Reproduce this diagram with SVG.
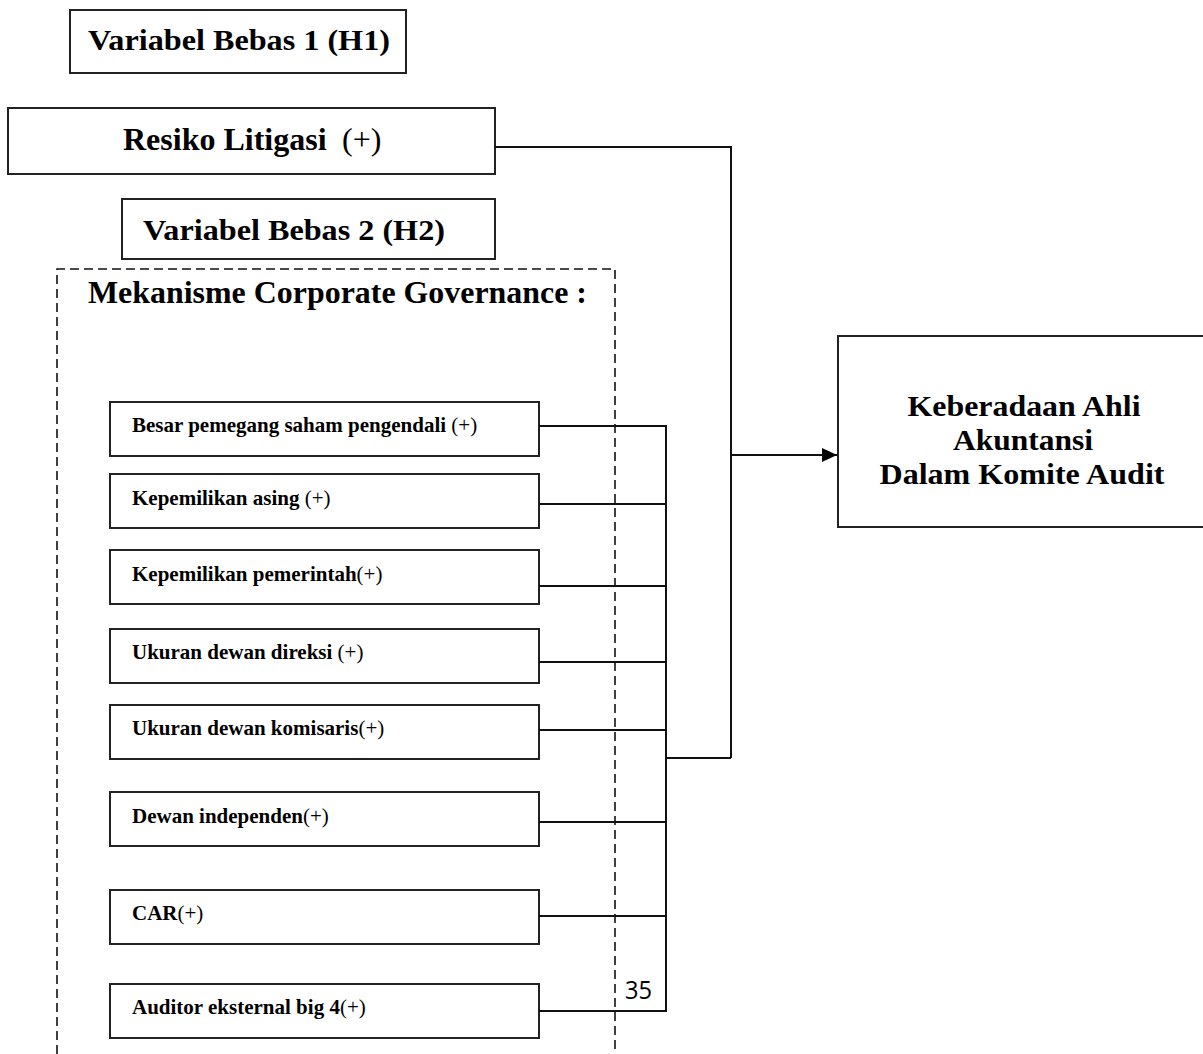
<svg xmlns="http://www.w3.org/2000/svg" width="1203" height="1054" viewBox="0 0 1203 1054">
<style>
.box{fill:#fff;stroke:#222;stroke-width:2}
.dash{fill:none;stroke:#111;stroke-width:1.6;stroke-dasharray:9 5}
.conn{fill:none;stroke:#111;stroke-width:2}
.t{font-family:"Liberation Serif","Times New Roman",serif;font-weight:bold;fill:#000}
.s{font-size:21px}
.n{font-weight:normal}
</style>
<defs>
<marker id="arr" markerWidth="16" markerHeight="14" refX="15" refY="7" orient="auto" markerUnits="userSpaceOnUse">
<path d="M0,0 L15,7 L0,14 Z" fill="#000"/>
</marker>
</defs>
<rect width="1203" height="1054" fill="#fff"/>

<g id="group-h2-frame">
<path class="dash" d="M57,1054 V269 H615 V1054"/>
<text class="t" x="88" y="303" font-size="31" textLength="499" lengthAdjust="spacingAndGlyphs">Mekanisme Corporate Governance :</text>
</g>

<g id="label-h1">
<rect class="box" x="70" y="10" width="336" height="63"/>
<text class="t" x="88" y="50" font-size="29" textLength="302" lengthAdjust="spacingAndGlyphs">Variabel Bebas 1 (H1)</text>
</g>

<g id="node-resiko">
<rect class="box" x="8" y="108" width="487" height="66"/>
<text class="t" x="123" y="150" font-size="32">Resiko Litigasi<tspan x="342" class="n">(+)</tspan></text>
</g>

<g id="label-h2">
<rect class="box" x="122" y="199" width="373" height="60"/>
<text class="t" x="143" y="240" font-size="29" textLength="302" lengthAdjust="spacingAndGlyphs">Variabel Bebas 2 (H2)</text>
</g>

<g id="node-besar">
<rect class="box" x="110" y="402" width="429" height="54"/>
<text class="t s" x="132" y="432">Besar pemegang saham pengendali <tspan class="n">(+)</tspan></text>
</g>
<g id="node-asing">
<rect class="box" x="110" y="474" width="429" height="54"/>
<text class="t s" x="132" y="505">Kepemilikan asing <tspan class="n">(+)</tspan></text>
</g>
<g id="node-pemerintah">
<rect class="box" x="110" y="550" width="429" height="54"/>
<text class="t s" x="132" y="581">Kepemilikan pemerintah<tspan class="n">(+)</tspan></text>
</g>
<g id="node-direksi">
<rect class="box" x="110" y="629" width="429" height="54"/>
<text class="t s" x="132" y="659">Ukuran dewan direksi <tspan class="n">(+)</tspan></text>
</g>
<g id="node-komisaris">
<rect class="box" x="110" y="705" width="429" height="54"/>
<text class="t s" x="132" y="735">Ukuran dewan komisaris<tspan class="n">(+)</tspan></text>
</g>
<g id="node-independen">
<rect class="box" x="110" y="792" width="429" height="54"/>
<text class="t s" x="132" y="823">Dewan independen<tspan class="n">(+)</tspan></text>
</g>
<g id="node-car">
<rect class="box" x="110" y="890" width="429" height="54"/>
<text class="t s" x="132" y="920">CAR<tspan class="n">(+)</tspan></text>
</g>
<g id="node-auditor">
<rect class="box" x="110" y="984" width="429" height="54"/>
<text class="t s" x="132" y="1014">Auditor eksternal big 4<tspan class="n">(+)</tspan></text>
</g>

<g id="node-target">
<rect class="box" x="838" y="336" width="366" height="191"/>
<text class="t" font-size="30" text-anchor="middle">
<tspan x="1024" y="416" textLength="233" lengthAdjust="spacingAndGlyphs">Keberadaan Ahli</tspan>
</text>
<text class="t" font-size="30" text-anchor="middle" x="1023" y="450" textLength="140" lengthAdjust="spacingAndGlyphs">Akuntansi</text>
<text class="t" font-size="30" text-anchor="middle" x="1022" y="484" textLength="285" lengthAdjust="spacingAndGlyphs">Dalam Komite Audit</text>
</g>

<g id="connectors">
<path class="conn" d="M495,147 H731 V758"/>
<path class="conn" d="M539,426 H666 V1011 H539"/>
<path class="conn" d="M539,504 H666 M539,586 H666 M539,662 H666 M539,730 H666 M539,822 H666 M539,916 H666"/>
<path class="conn" d="M666,758 H731"/>
<path class="conn" d="M731,455 H837" marker-end="url(#arr)"/>
</g>

<text x="625" y="999" font-family="'Open Sans','Liberation Sans',sans-serif" font-size="26" textLength="27" lengthAdjust="spacingAndGlyphs" fill="#000">35</text>
</svg>
